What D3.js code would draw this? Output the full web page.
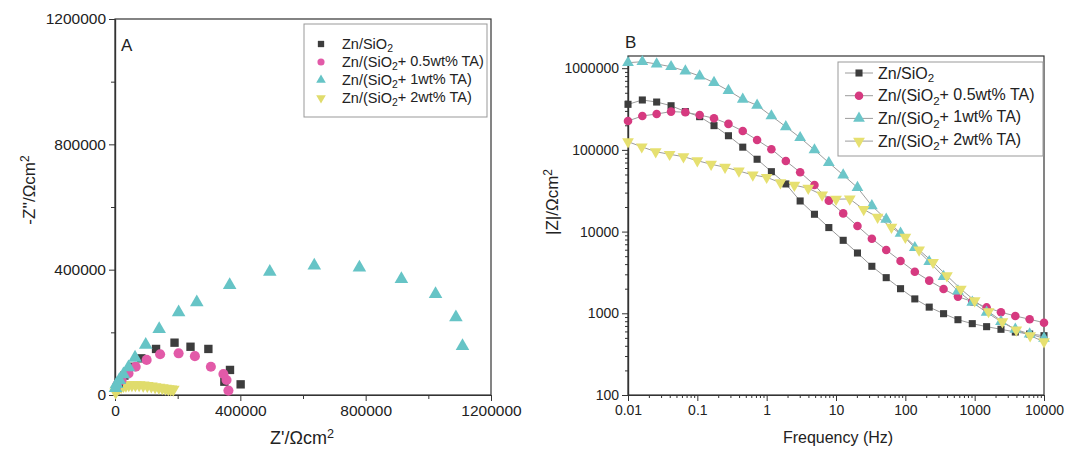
<!DOCTYPE html>
<html lang="en">
<head>
<meta charset="utf-8">
<title>Nyquist and Bode plots</title>
<script src="https://d3js.org/d3.v7.min.js"></script>
<style>
  body { margin: 0; background: #fff; }
  svg text { font-family: "Liberation Sans", Arial, sans-serif; fill: #222; }
  .axis path { stroke: #333; stroke-width: 1.2; }
  .axis line { stroke: #333; }
  .axis text { fill: #222; }
  .axisA text { font-size: 15.5px; }
  .axisB text { font-size: 14px; }
  .frame { fill: none; stroke: #333; stroke-width: 1.2; }
  .legend-box { fill: #fff; stroke: #999; stroke-width: 1; }
  .link { fill: none; stroke: #9c9c9c; stroke-width: 1; }
</style>
</head>
<body>
<svg id="chart" width="1067" height="452"></svg>
<script>
// ---------- DATA ----------
// series names (label parts, "2" is subscripted)
var seriesNames = [
  ["Zn/SiO", "2", ""],
  ["Zn/(SiO", "2", "+ 0.5wt% TA)"],
  ["Zn/(SiO", "2", "+ 1wt% TA)"],
  ["Zn/(SiO", "2", "+ 2wt% TA)"]
];

// panel A : Nyquist  [Z', -Z'']
var nyqSiO2 = [[401000, 34000], [367000, 80000], [349000, 42500], [298000, 147000], [241000, 154000],
  [190000, 167000], [131000, 147000], [84000, 117000], [53000, 90000], [30000, 62000], [12000, 38000]];
var nyqTA05 = [[362000, 14000], [356000, 48000], [346000, 67000], [306000, 90000], [255000, 124000],
  [203000, 133000], [144000, 130000], [101000, 112000], [66000, 90000], [43000, 69000],
  [21000, 48000], [7000, 32000]];
var nyqTA1 = [[1109000, 156000], [1088000, 248000], [1023000, 322000], [914000, 370000], [780000, 407000],
  [636000, 413000], [494000, 393000], [366000, 351000], [261000, 296000], [203000, 264000],
  [141000, 210000], [98000, 160000], [64000, 119000], [43000, 88000], [27000, 66000],
  [14000, 48000], [5000, 35000], [1500, 22000]];
var nyqTA2 = [[2000, 9000], [5000, 15000], [9000, 20000], [14000, 24000], [20000, 27000], [27000, 29500],
  [35000, 31000], [44000, 32000], [54000, 32500], [65000, 32500], [77000, 32000], [90000, 31000],
  [103000, 29500], [116000, 28000], [128000, 26000], [140000, 24000], [151000, 22500],
  [161000, 21000], [170000, 19500], [178000, 18500], [186000, 17500]];

// panel B : Bode |Z| vs frequency
var freq30 = [0.01, 0.0161, 0.0259, 0.0418, 0.0672, 0.108, 0.174, 0.281, 0.452, 0.728,
  1.17, 1.89, 3.04, 4.89, 7.88, 12.7, 20.4, 32.9, 53.0, 85.3,
  137, 221, 356, 574, 924, 1487, 2395, 3857, 6210, 10000];
var freq31 = [0.01, 0.0158, 0.0251, 0.0398, 0.0631, 0.1, 0.158, 0.251, 0.398, 0.631,
  1, 1.58, 2.51, 3.98, 6.31, 10, 15.8, 25.1, 39.8, 63.1,
  100, 158, 251, 398, 631, 1000, 1585, 2512, 3981, 6310, 10000];
var bodeSiO2 = [361000, 408000, 385000, 347000, 294000, 255000, 198000, 149000, 108000, 76800,
  54100, 38300, 23700, 16300, 11200, 7820, 5470, 3760, 2730, 2000,
  1500, 1190, 989, 835, 747, 686, 637, 590, 558, 532];
var bodeTA05 = [226000, 260000, 275000, 294000, 289000, 267000, 244000, 208000, 170000, 132000,
  102000, 73100, 53200, 37200, 23900, 16700, 11700, 8180, 5960, 4370,
  3230, 2510, 1980, 1600, 1390, 1180, 1030, 927, 845, 767];
var bodeTA1 = [1167000, 1200000, 1125000, 1042000, 924000, 802000, 665000, 531000, 416000, 351000,
  260000, 192000, 141000, 99800, 69700, 49300, 34500, 20700, 14100, 9530,
  6350, 4280, 2810, 1870, 1360, 1030, 789, 637, 558, 494];
var bodeTA2 = [126000, 109000, 95000, 88300, 82600, 73800, 66700, 61300, 55200, 49300,
  46200, 39700, 37000, 33900, 28100, 24900, 25100, 18700, 15000, 11300,
  8520, 5960, 4210, 2890, 1980, 1430, 1050, 789, 625, 532, 449];

// tick labels
var ticksA = [0, 400000, 800000, 1200000];
var minorA = [200000, 600000, 1000000];
var ticksBx = [0.01, 0.1, 1, 10, 100, 1000, 10000];
var ticksBy = [100, 1000, 10000, 100000, 1000000];

// ---------- STYLES ----------
var colorsA = ["#3d3d3d", "#e25aa8", "#66c4c6", "#e0dc6c"];
var colorsB = ["#3d3d3d", "#d63a80", "#6cc6c9", "#e6e070"];
var shapes = [d3.symbolSquare, d3.symbolCircle, d3.symbolTriangle, d3.symbolTriangle];
var flips = [0, 0, 0, 180];

var svg = d3.select("#chart");

function placeMarker(sel, i, size, color, x, y) {
  sel.append("path")
    .attr("d", d3.symbol().type(shapes[i]).size(size)())
    .attr("fill", color)
    .attr("transform", "translate(" + x + "," + y + ") rotate(" + flips[i] + ")");
}

function labelText(sel, parts) {
  sel.append("tspan").text(parts[0]);
  sel.append("tspan").attr("dy", "0.32em").attr("font-size", "0.72em").text(parts[1]);
  if (parts[2]) sel.append("tspan").attr("dy", "-0.32em").text(parts[2]);
}

function supLabel(sel, main) {
  sel.append("tspan").text(main);
  sel.append("tspan").attr("dy", "-0.5em").attr("font-size", "0.7em").text("2");
}

// ================= PANEL A =================
var xA = d3.scaleLinear().domain([0, 1200000]).range([115, 491]);
var yA = d3.scaleLinear().domain([0, 1200000]).range([395, 19]);

svg.append("rect").attr("class", "frame")
  .attr("x", 115).attr("y", 19).attr("width", 376).attr("height", 376);

svg.append("g").attr("class", "axis axisA")
  .attr("transform", "translate(0,395)")
  .call(d3.axisBottom(xA).tickValues(minorA).tickFormat("").tickSize(4).tickSizeOuter(0));
svg.append("g").attr("class", "axis axisA")
  .attr("transform", "translate(0,395)")
  .call(d3.axisBottom(xA).tickValues(ticksA).tickFormat(d3.format("d")).tickSize(6).tickPadding(4).tickSizeOuter(0));
svg.append("g").attr("class", "axis axisA")
  .attr("transform", "translate(115,0)")
  .call(d3.axisLeft(yA).tickValues(minorA).tickFormat("").tickSize(4).tickSizeOuter(0));
svg.append("g").attr("class", "axis axisA")
  .attr("transform", "translate(115,0)")
  .call(d3.axisLeft(yA).tickValues(ticksA).tickFormat(d3.format("d")).tickSize(6).tickPadding(3).tickSizeOuter(0));

var nyq = [nyqSiO2, nyqTA05, nyqTA1, nyqTA2];
var sizesA = [70, 80, 80, 70];
[3, 0, 1, 2].forEach(function (i) {
  var g = svg.append("g");
  nyq[i].forEach(function (d) {
    placeMarker(g, i, sizesA[i], colorsA[i], xA(d[0]), yA(d[1]));
  });
});

svg.append("text").attr("x", 121).attr("y", 51).attr("font-size", 17).text("A");

// legend A
var legA = svg.append("g");
legA.append("rect").attr("class", "legend-box")
  .attr("x", 304).attr("y", 24).attr("width", 183).attr("height", 93);
seriesNames.forEach(function (n, i) {
  var yy = 44 + i * 18;
  placeMarker(legA, i, 40, colorsA[i], 321, yy);
  labelText(legA.append("text").attr("x", 342).attr("y", yy + 5).attr("font-size", 14.5), n);
});

// axis titles A
supLabel(svg.append("text").attr("text-anchor", "middle").attr("font-size", 17)
  .attr("transform", "translate(35,190) rotate(-90)"), "-Z''/\u03A9cm");
supLabel(svg.append("text").attr("text-anchor", "middle").attr("font-size", 18)
  .attr("x", 302).attr("y", 444), "Z'/\u03A9cm");

// ================= PANEL B =================
var xB = d3.scaleLog().domain([0.01, 10000]).range([628, 1044]);
var yB = d3.scaleLog().domain([100, Math.pow(10, 6.149)]).range([395, 56]);

svg.append("rect").attr("class", "frame")
  .attr("x", 628).attr("y", 56).attr("width", 416).attr("height", 339);

var minorBx = [], minorBy = [];
ticksBx.slice(0, -1).forEach(function (d) { for (var k = 2; k < 10; k++) minorBx.push(d * k); });
ticksBy.forEach(function (d) { for (var k = 2; k < 10; k++) if (d * k < yB.domain()[1]) minorBy.push(d * k); });

svg.append("g").attr("class", "axis axisB")
  .attr("transform", "translate(0,395)")
  .call(d3.axisBottom(xB).tickValues(minorBx).tickFormat("").tickSize(3).tickSizeOuter(0));
svg.append("g").attr("class", "axis axisB")
  .attr("transform", "translate(0,395)")
  .call(d3.axisBottom(xB).tickValues(ticksBx).tickFormat(function (d) { return String(+d.toPrecision(3)); })
    .tickSize(6).tickPadding(4).tickSizeOuter(0));
svg.append("g").attr("class", "axis axisB")
  .attr("transform", "translate(628,0)")
  .call(d3.axisLeft(yB).tickValues(minorBy).tickFormat("").tickSize(3).tickSizeOuter(0));
svg.append("g").attr("class", "axis axisB")
  .attr("transform", "translate(628,0)")
  .call(d3.axisLeft(yB).tickValues(ticksBy).tickFormat(d3.format("d")).tickSize(6).tickPadding(3).tickSizeOuter(0));

var bode = [
  { f: freq30, z: bodeSiO2 },
  { f: freq30, z: bodeTA05 },
  { f: freq30, z: bodeTA1 },
  { f: freq31, z: bodeTA2 }
];
var sizesB = [50, 58, 60, 60];
var line = d3.line().x(function (d) { return xB(d[0]); }).y(function (d) { return yB(d[1]); });

bode.forEach(function (s) {
  var pts = s.f.map(function (f, j) { return [f, s.z[j]]; });
  svg.append("path").attr("class", "link").attr("d", line(pts));
});
bode.forEach(function (s, i) {
  var g = svg.append("g");
  s.f.forEach(function (f, j) {
    placeMarker(g, i, sizesB[i], colorsB[i], xB(f), yB(s.z[j]));
  });
});

svg.append("text").attr("x", 625).attr("y", 48).attr("font-size", 17).text("B");

// legend B
var legB = svg.append("g");
legB.append("rect").attr("class", "legend-box")
  .attr("x", 838).attr("y", 62).attr("width", 205).attr("height", 94);
seriesNames.forEach(function (n, i) {
  var yy = 73 + i * 22.7;
  legB.append("line").attr("class", "link")
    .attr("x1", 845).attr("x2", 873).attr("y1", yy).attr("y2", yy);
  placeMarker(legB, i, sizesB[i], colorsB[i], 859, yy);
  labelText(legB.append("text").attr("x", 878).attr("y", yy + 5.5).attr("font-size", 16), n);
});

// axis titles B
supLabel(svg.append("text").attr("text-anchor", "middle").attr("font-size", 17)
  .attr("transform", "translate(558,202) rotate(-90)"), "|Z|/\u03A9cm");
svg.append("text").attr("text-anchor", "middle").attr("font-size", 16)
  .attr("x", 838).attr("y", 443).text("Frequency (Hz)");
</script>
</body>
</html>
